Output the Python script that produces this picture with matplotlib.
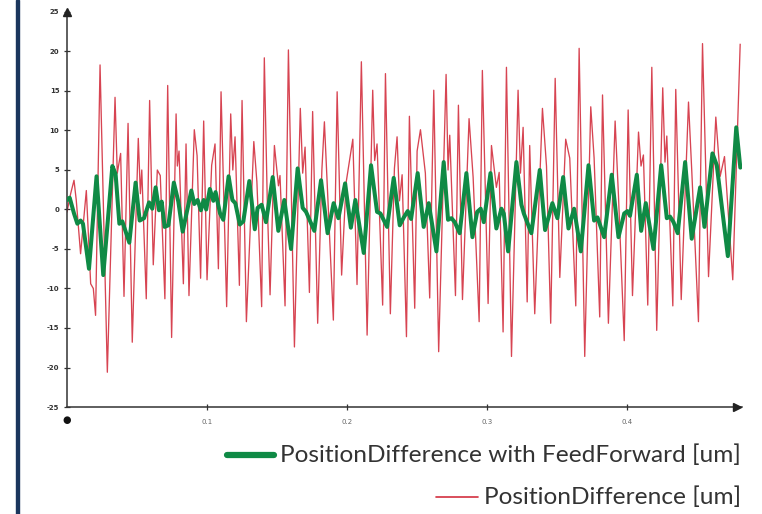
import matplotlib
matplotlib.use("Agg")
import matplotlib.pyplot as plt
from matplotlib.lines import Line2D
from matplotlib.patches import Rectangle

# Position difference without feed forward (thin red trace)
red_t = [0.0, 0.0026, 0.0050, 0.0066, 0.0097, 0.0138, 0.0169, 0.0188, 0.0204, 0.0236,
         0.0288, 0.0324, 0.0343, 0.0359, 0.0383, 0.0407, 0.0436, 0.0466, 0.0509, 0.0524,
         0.0534, 0.0566, 0.0590, 0.0616, 0.0645, 0.0666, 0.0699, 0.0719, 0.0747, 0.0779,
         0.0788, 0.0800, 0.0831, 0.0850, 0.0871, 0.0909, 0.0929, 0.0954, 0.0976, 0.1000,
         0.1033, 0.1057, 0.1081, 0.1100, 0.1140, 0.1169, 0.1184, 0.1200, 0.1231, 0.1250,
         0.1281, 0.1334, 0.1356, 0.1390, 0.1409, 0.1431, 0.1450, 0.1481, 0.1510, 0.1521,
         0.1557, 0.1581, 0.1624, 0.1666, 0.1683, 0.1700, 0.1731, 0.1754, 0.1790, 0.1820,
         0.1838, 0.1902, 0.1929, 0.1961, 0.1993, 0.2041, 0.2071, 0.2102, 0.2143, 0.2183,
         0.2197, 0.2214, 0.2254, 0.2274, 0.2309, 0.2338, 0.2357, 0.2374, 0.2393, 0.2424,
         0.2445, 0.2483, 0.2500, 0.2524, 0.2559, 0.2590, 0.2619, 0.2654, 0.2707, 0.2721,
         0.2733, 0.2774, 0.2795, 0.2824, 0.2871, 0.2900, 0.2943, 0.2966, 0.3007, 0.3031,
         0.3066, 0.3086, 0.3114, 0.3138, 0.3174, 0.3221, 0.3238, 0.3257, 0.3286, 0.3304,
         0.3340, 0.3395, 0.3424, 0.3454, 0.3486, 0.3519, 0.3561, 0.3590, 0.3633, 0.3657,
         0.3697, 0.3740, 0.3764, 0.3804, 0.3824, 0.3866, 0.3914, 0.3938, 0.3979, 0.4007,
         0.4038, 0.4081, 0.4099, 0.4116, 0.4147, 0.4176, 0.4211, 0.4254, 0.4270, 0.4283,
         0.4326, 0.4347, 0.4386, 0.4438, 0.4461, 0.4509, 0.4538, 0.4581, 0.4633, 0.4664,
         0.4695, 0.4754, 0.4807]
red_val = [-0.3, 2.0, 3.7, 1.2, -5.6, 2.4, -9.4, -10.0, -13.4, 18.3,
           -20.6, 2.0, 14.2, 4.6, 7.1, -11.0, 10.9, -16.8, 9.0, 2.0,
           5.0, -11.3, 13.8, -7.0, 5.0, 4.3, -11.3, 15.7, -16.2, 12.1,
           5.5, 7.4, -9.4, 8.3, -10.9, 10.1, 6.8, -8.7, 11.2, -8.9,
           5.6, 8.3, -7.5, 14.9, -12.3, 12.1, 5.0, 9.2, -9.6, 13.8,
           -14.2, 8.6, 3.5, -12.3, 19.2, 0.3, -10.8, 8.1, 3.0, 4.3,
           -12.2, 20.2, -17.4, 12.8, 4.6, 7.9, -10.5, 12.4, -14.4, 5.0,
           11.1, -14.0, 14.9, -8.3, 3.4, 8.9, -9.5, 18.7, -15.9, 15.1,
           6.2, 8.3, -12.1, 17.2, -13.2, 5.2, 9.2, 1.1, 4.4, -16.1,
           11.8, -12.5, 7.4, 10.1, 4.6, -11.2, 15.1, -18.0, 17.1, 5.0,
           9.4, -10.9, 13.2, -11.4, 11.5, 4.1, -14.2, 17.6, -11.9, 8.1,
           2.8, 4.7, -15.5, 18.0, -18.6, 15.1, 4.6, 10.4, -11.7, 8.1,
           -13.2, 12.8, 5.5, -14.4, 16.6, -8.6, 8.9, 6.5, -12.2, 20.4,
           -18.6, 13.0, 6.5, -13.6, 14.5, -14.4, 11.2, 1.7, -16.6, 12.6,
           -10.9, 9.8, 5.5, 6.9, -12.1, 18.0, -15.3, 15.4, 6.0, 9.3,
           -12.2, 15.2, -11.4, 13.6, 5.0, -14.2, 21.0, -8.5, 11.7, 4.2,
           6.7, -8.9, 20.9]

# Position difference with feed forward (thick green trace)
green_t = [0.0, 0.0019, 0.0050, 0.0074, 0.0097, 0.0114, 0.0157, 0.0211, 0.0259, 0.0324,
           0.0347, 0.0374, 0.0395, 0.0445, 0.0490, 0.0519, 0.0550, 0.0586, 0.0609, 0.0633,
           0.0657, 0.0676, 0.0697, 0.0724, 0.0763, 0.0795, 0.0826, 0.0888, 0.0909, 0.0933,
           0.0956, 0.0976, 0.0994, 0.1020, 0.1045, 0.1061, 0.1093, 0.1116, 0.1154, 0.1181,
           0.1202, 0.1234, 0.1259, 0.1302, 0.1341, 0.1361, 0.1390, 0.1421, 0.1469, 0.1509,
           0.1552, 0.1600, 0.1647, 0.1683, 0.1707, 0.1766, 0.1814, 0.1861, 0.1904, 0.1938,
           0.1986, 0.2027, 0.2059, 0.2119, 0.2171, 0.2214, 0.2238, 0.2286, 0.2333, 0.2376,
           0.2405, 0.2433, 0.2457, 0.2504, 0.2547, 0.2583, 0.2638, 0.2690, 0.2721, 0.2745,
           0.2769, 0.2804, 0.2852, 0.2895, 0.2929, 0.2954, 0.2976, 0.3024, 0.3066, 0.3102,
           0.3119, 0.3150, 0.3209, 0.3245, 0.3262, 0.3316, 0.3376, 0.3414, 0.3466, 0.3502,
           0.3543, 0.3581, 0.3621, 0.3669, 0.3724, 0.3764, 0.3788, 0.3836, 0.3890, 0.3938,
           0.3979, 0.4002, 0.4020, 0.4069, 0.4100, 0.4133, 0.4188, 0.4243, 0.4283, 0.4306,
           0.4331, 0.4361, 0.4414, 0.4461, 0.4521, 0.4552, 0.4609, 0.4640, 0.4719, 0.4779,
           0.4808]
green_val = [1.2, 1.5, -0.5, -1.8, -1.4, -1.8, -7.5, 4.2, -8.3, 5.5,
             4.5, -1.8, -1.5, -4.2, 3.4, -1.4, -1.1, 0.9, 0.1, 2.8,
             -0.1, 1.0, -2.2, -2.0, 3.4, 1.0, -2.8, 2.4, 0.7, 1.2,
             -0.1, 1.2, 0.0, 2.6, 1.1, 2.2, -0.5, -1.3, 4.2, 1.2,
             0.8, -1.9, -1.5, 3.6, -2.5, 0.2, 0.6, -1.6, 4.1, -2.7,
             1.2, -5.0, 5.2, 0.2, -0.3, -2.7, 3.7, -3.0, 0.8, -1.1,
             3.3, -2.3, 1.2, -5.5, 5.6, -0.3, -0.5, -2.2, 4.0, -2.0,
             -1.0, -0.2, -1.2, 4.6, -2.2, 0.8, -5.3, 6.0, -1.3, -1.1,
             -1.6, -3.0, 4.6, -3.5, -0.3, 0.1, -1.6, 4.6, -2.4, 0.1,
             -0.5, -5.3, 6.0, 0.6, -0.5, -3.0, 5.0, -2.6, 0.8, -1.1,
             4.1, -2.4, 0.1, -5.3, 5.6, -1.4, -1.0, -3.5, 4.4, -3.5,
             -0.5, -0.2, -0.8, 4.4, -2.7, 0.8, -5.0, 5.6, -1.1, -0.9,
             -1.6, -3.0, 6.0, -3.7, 2.8, -2.2, 7.1, 5.6, -5.9, 10.4,
             5.3]

y_ticks = [-25, -20, -15, -10, -5, 0, 5, 10, 15, 20, 25]
x_ticks = [0.1, 0.2, 0.3, 0.4]
label_ff = "PositionDifference with FeedForward [um]"
label_raw = "PositionDifference [um]"

W, H = 762, 514
fig = plt.figure(figsize=(W / 100, H / 100), dpi=100)
ax = fig.add_axes([67 / W, 1 - 407 / H, (742 - 67) / W, (407 - 12) / H])

ax.plot(red_t, red_val, color='#d3303f', lw=0.95, alpha=0.9, zorder=2)
ax.plot(green_t, green_val, color='#0f8a45', lw=2.9, solid_joinstyle='round',
        solid_capstyle='round', zorder=3)

ax.set_xlim(0, 0.482)
ax.set_ylim(-25, 25)
for s in ['top', 'right']:
    ax.spines[s].set_visible(False)
for s in ['left', 'bottom']:
    ax.spines[s].set_color('#333333')
    ax.spines[s].set_linewidth(1.1)

ax.set_yticks(y_ticks)
ax.set_yticklabels([str(v) for v in y_ticks], fontsize=5, color='#333333',
                   fontweight='bold')
ax.set_xticks(x_ticks)
ax.set_xticklabels([str(v) for v in x_ticks], fontsize=5, color='#666666')
ax.tick_params(axis='y', direction='inout', length=5, width=0.9, color='#333333', pad=3)
ax.tick_params(axis='x', direction='inout', length=5, width=0.9, color='#333333', pad=6)

# axis arrow heads and the origin blob
ax.plot([0], [1.0], marker='^', ms=6, color='#222222', transform=ax.transAxes,
        clip_on=False, zorder=5)
ax.plot([0.992], [0], marker='>', ms=6, color='#222222', transform=ax.transAxes,
        clip_on=False, zorder=5)
ax.text(0, -0.032, "●", transform=ax.transAxes, ha='center', va='center',
        fontsize=7, color='#111111')

# dark frame bar on the left edge
fig.add_artist(Rectangle((16 / W, 0), 3 / W, 1, transform=fig.transFigure,
                         color='#1b365d', zorder=10))

# legend below the chart, right aligned
fig.canvas.draw()
renderer = fig.canvas.get_renderer()
rows = [(label_ff, 455, '#0f8a45', 4.5, 47), (label_raw, 497, '#d3303f', 1.2, 42)]
for text, ypix, col, lw, llen in rows:
    t = fig.text(741 / W, 1 - ypix / H, text, ha='right', va='center',
                 fontsize=17.6, family='Lato', color='#333333')
    bb = t.get_window_extent(renderer)
    x1 = bb.x0 - 6
    fig.add_artist(Line2D([(x1 - llen) / W, x1 / W], [1 - ypix / H, 1 - ypix / H],
                          transform=fig.transFigure, color=col, lw=lw,
                          solid_capstyle='round'))

fig.savefig("out.png", dpi=100)
